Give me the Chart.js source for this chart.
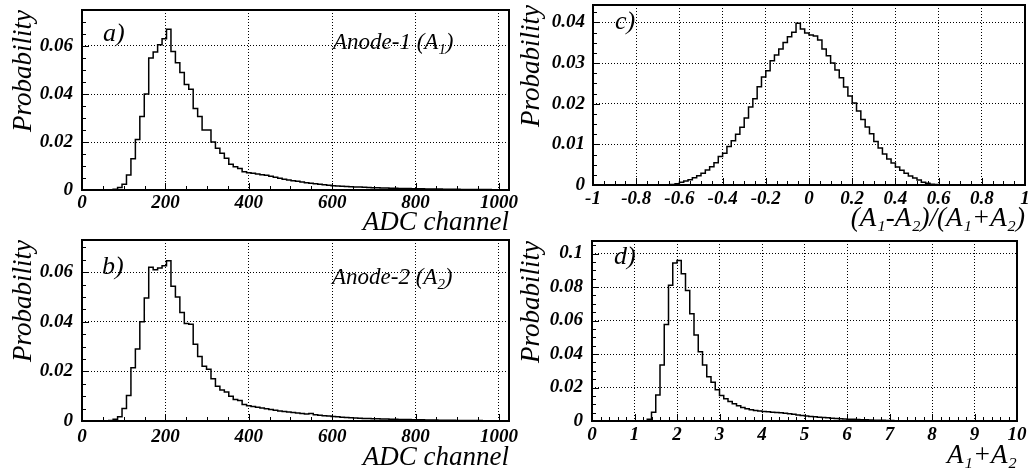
<!DOCTYPE html>
<html>
<head>
<meta charset="utf-8">
<script src="https://cdn.jsdelivr.net/npm/chart.js@4.4.1/dist/chart.umd.min.js"></script>
<style>
  html, body { margin: 0; padding: 0; background: #fff; overflow: hidden; }
  body { width: 1028px; height: 475px; position: relative; }
  canvas { position: absolute; }
  .lbl { position: absolute; font-family: 'Liberation Serif', serif; font-style: italic; line-height: 1; white-space: nowrap; color: #000; }
  .lbl span { font-size: 0.65em; position: relative; top: 0.35em; }
</style>
</head>
<body>
<canvas id="ga" width="520" height="237" style="left:0;top:0"></canvas>
<canvas id="gb" width="520" height="238" style="left:0;top:237px"></canvas>
<canvas id="gc" width="523" height="237" style="left:505px;top:0"></canvas>
<canvas id="gd" width="523" height="238" style="left:505px;top:237px"></canvas>

<div class="lbl" style="left:103px;top:20px;font-size:26px">a)</div>
<div class="lbl" style="left:333px;top:30px;font-size:23px">Anode-1 (A<span>1</span>)</div>
<div class="lbl" style="left:102px;top:253px;font-size:26px">b)</div>
<div class="lbl" style="left:332px;top:265px;font-size:23px">Anode-2 (A<span>2</span>)</div>
<div class="lbl" style="left:615px;top:8px;font-size:26px">c)</div>
<div class="lbl" style="left:614px;top:243px;font-size:26px">d)</div>

<script>
// ADC spectra: 96 bins over 0..1024
let adcRange = [0, 1024]
let adcTicks = [0, 200, 400, 600, 800, 1000]
let probTicksAB = [0, 0.02, 0.04, 0.06]
let anode1 = [
  0, 0, 0, 0, 0, 0, 0, 0.0001, 0.0003, 0.001,
  0.0024, 0.0063, 0.013, 0.021, 0.0306, 0.040, 0.055, 0.0575, 0.0605, 0.063,
  0.067, 0.0577, 0.053, 0.049, 0.044, 0.042, 0.034, 0.0306, 0.025, 0.025,
  0.020, 0.0174, 0.0153, 0.0132, 0.0107, 0.0097, 0.009, 0.0076, 0.0072, 0.0070,
  0.0067, 0.0064, 0.0061, 0.0057, 0.0053, 0.0049, 0.0045, 0.0042, 0.0039, 0.0036,
  0.0033, 0.0030, 0.0028, 0.0026, 0.0024, 0.0022, 0.0020, 0.0018, 0.0017, 0.0016,
  0.0015, 0.0014, 0.0013, 0.0012, 0.0011, 0.0010, 0.0009, 0.0009, 0.0008, 0.0008,
  0.0007, 0.0007, 0.0006, 0.0006, 0.0006, 0.0005, 0.0005, 0.0005, 0.0004, 0.0004,
  0.0004, 0.0004, 0.0003, 0.0003, 0.0003, 0.0003, 0.0002, 0.0002, 0.0002, 0.0002,
  0.0002, 0.0002, 0.0002, 0.0001, 0.0001, 0.0001
]
let anode2 = [
  0, 0, 0, 0, 0, 0, 0, 0.0002, 0.0007, 0.0017,
  0.005, 0.0103, 0.0215, 0.029, 0.040, 0.0496, 0.062, 0.061, 0.0617, 0.0626,
  0.0646, 0.0543, 0.050, 0.0438, 0.0393, 0.039, 0.031, 0.026, 0.0221, 0.0209,
  0.017, 0.014, 0.0125, 0.0117, 0.010, 0.0087, 0.0083, 0.0067, 0.0062, 0.0058,
  0.0055, 0.0052, 0.0049, 0.0046, 0.0043, 0.0040, 0.0038, 0.0036, 0.0034, 0.0032,
  0.0030, 0.0028, 0.0030, 0.0025, 0.0023, 0.0021, 0.0020, 0.0018, 0.0017, 0.0015,
  0.0014, 0.0013, 0.0012, 0.0011, 0.0010, 0.0010, 0.0009, 0.0009, 0.0008, 0.0008,
  0.0007, 0.0007, 0.0006, 0.0006, 0.0006, 0.0005, 0.0005, 0.0005, 0.0004, 0.0004,
  0.0004, 0.0003, 0.0003, 0.0003, 0.0003, 0.0002, 0.0002, 0.0002, 0.0002, 0.0002,
  0.0002, 0.0001, 0.0001, 0.0001, 0.0001, 0.0001
]

// (A1-A2)/(A1+A2): 100 bins over -1..1
let asymRange = [-1, 1]
let asymTicks = [-1, -0.8, -0.6, -0.4, -0.2, 0, 0.2, 0.4, 0.6, 0.8, 1]
let probTicksC = [0, 0.01, 0.02, 0.03, 0.04]
let asym = [
  0, 0, 0, 0, 0, 0, 0, 0, 0, 0,
  0, 0, 0, 0, 0, 0, 0, 0, 0, 0.0001,
  0.0003, 0.0007, 0.001, 0.0013, 0.0018, 0.0023, 0.0029, 0.0037, 0.0045, 0.0055,
  0.007, 0.0078, 0.0095, 0.0109, 0.0125, 0.0142, 0.0165, 0.0192, 0.0212, 0.0242,
  0.0266, 0.0281, 0.0306, 0.032, 0.0335, 0.0351, 0.0365, 0.0376, 0.0398, 0.0384,
  0.0374, 0.0369, 0.0367, 0.0357, 0.0335, 0.0318, 0.030, 0.0283, 0.0264, 0.0241,
  0.0219, 0.0202, 0.0182, 0.0161, 0.0143, 0.0126, 0.0107, 0.0091, 0.0076, 0.0064,
  0.0054, 0.0044, 0.0036, 0.0029, 0.0022, 0.0017, 0.0012, 0.0007, 0.0004, 0.0002,
  0.0001, 0, 0, 0, 0, 0, 0, 0, 0, 0,
  0, 0, 0, 0, 0, 0, 0, 0, 0, 0
]

// A1+A2: 100 bins over 0..10
let sumRange = [0, 10]
let sumTicks = [0, 1, 2, 3, 4, 5, 6, 7, 8, 9, 10]
let probTicksD = [0, 0.02, 0.04, 0.06, 0.08, 0.1]
let sumA = [
  0, 0, 0, 0, 0, 0, 0, 0, 0, 0,
  0, 0, 0, 0, 0.001, 0.0053, 0.0156, 0.0335, 0.0576, 0.081,
  0.0944, 0.0958, 0.088, 0.078, 0.064, 0.0513, 0.0414, 0.0335, 0.0265, 0.0232,
  0.0186, 0.0152, 0.0133, 0.0117, 0.0103, 0.0091, 0.0081, 0.0073, 0.0067, 0.0063,
  0.0059, 0.0057, 0.0055, 0.0053, 0.0051, 0.0049, 0.0046, 0.0043, 0.0040, 0.0036,
  0.0033, 0.0030, 0.0027, 0.0025, 0.0023, 0.0021, 0.0019, 0.0017, 0.0015, 0.0014,
  0.0012, 0.0011, 0.0010, 0.0009, 0.0008, 0.0007, 0.0006, 0.0005, 0.0004, 0.0004,
  0.0003, 0.0003, 0.0002, 0.0002, 0.0002, 0.0001, 0.0001, 0.0001, 0.0001, 0.0001,
  0, 0, 0, 0, 0, 0, 0, 0, 0, 0,
  0, 0, 0, 0, 0, 0, 0, 0, 0, 0
]

let serif = "'Liberation Serif', 'DejaVu Serif', serif"
let tickFont = { family: serif, style: 'italic', weight: 'bold', size: 19 }
let titleFont = { family: serif, style: 'italic', size: 27, lineHeight: 1 }

function histPoints(range, vals) {
  let w = (range[1] - range[0]) / vals.length
  let pts = vals.map((v, i) => ({ x: range[0] + i * w, y: v }))
  pts.push({ x: range[1], y: vals[vals.length - 1] })
  return pts
}

// frame + ROOT style inner ticks
const frame = {
  id: 'frame',
  afterDraw(chart, args, o) {
    let { ctx, chartArea: a } = chart
    let sx = chart.scales.x, sy = chart.scales.y
    ctx.save()
    ctx.strokeStyle = '#000'
    ctx.lineWidth = 1
    ctx.beginPath()
    for (let i = Math.ceil(sx.min / o.minorX - 1e-6); i <= Math.floor(sx.max / o.minorX + 1e-6); i++) {
      let px = Math.round(sx.getPixelForValue(i * o.minorX)) + 0.5
      let len = i % o.perX === 0 ? 7 : 4
      ctx.moveTo(px, a.bottom)
      ctx.lineTo(px, a.bottom - len)
    }
    for (let i = Math.ceil(sy.min / o.minorY - 1e-6); i <= Math.floor(sy.max / o.minorY + 1e-6); i++) {
      let py = Math.round(sy.getPixelForValue(i * o.minorY)) + 0.5
      let len = i % o.perY === 0 ? 7 : 4
      ctx.moveTo(a.left, py)
      ctx.lineTo(a.left + len, py)
    }
    ctx.stroke()
    ctx.lineWidth = 2
    ctx.strokeRect(a.left, a.top, a.right - a.left, a.bottom - a.top)
    ctx.restore()
  }
}

function histo(id, o) {
  return new Chart(document.getElementById(id), {
    type: 'line',
    data: {
      datasets: [{
        data: histPoints(o.range, o.values),
        stepped: 'after',
        borderColor: '#000',
        borderWidth: 1.5,
        pointRadius: 0,
        fill: false
      }]
    },
    options: {
      responsive: false,
      animation: false,
      devicePixelRatio: 1,
      layout: { padding: o.pad },
      plugins: {
        legend: { display: false },
        tooltip: { enabled: false },
        frame: { minorX: o.minorX, perX: o.perX, minorY: o.minorY, perY: o.perY }
      },
      scales: {
        x: {
          type: 'linear',
          min: o.range[0],
          max: o.range[1],
          grid: { color: '#000', lineWidth: 1, drawTicks: false },
          border: { display: false, dash: [1, 2] },
          ticks: {
            autoSkip: false, maxRotation: 0,
            padding: o.xTickPad, color: '#000', font: tickFont,
            callback: v => String(+v.toFixed(4))
          },
          afterBuildTicks: s => { s.ticks = o.xTicks.map(v => ({ value: v })) },
          title: {
            display: true, text: o.xTitle, align: 'end', color: '#000', font: titleFont,
            padding: { top: 0, bottom: o.xTitlePad }
          },
          afterFit: s => { s.height = o.xHeight; s.paddingLeft = 0; s.paddingRight = 0 }
        },
        y: {
          min: 0,
          max: o.yMax,
          grid: { color: '#000', lineWidth: 1, drawTicks: false },
          border: { display: false, dash: [1, 2] },
          ticks: {
            autoSkip: false,
            padding: o.yTickPad, color: '#000', font: tickFont,
            callback: v => String(+v.toFixed(4))
          },
          afterBuildTicks: s => { s.ticks = o.yTicks.map(v => ({ value: v })) },
          title: {
            display: true, text: 'Probability', align: 'end', color: '#000', font: titleFont,
            padding: { top: o.yTitlePad, bottom: 0 }
          },
          afterFit: s => { s.width = o.yWidth; s.paddingTop = 0; s.paddingBottom = 0 }
        }
      }
    },
    plugins: [frame]
  })
}

histo('ga', {
  range: adcRange, values: anode1, yMax: 0.075, xTicks: adcTicks, yTicks: probTicksAB,
  minorX: 50, perX: 4, minorY: 0.005, perY: 4,
  pad: { left: 0, top: 10, right: 11, bottom: 0 }, yWidth: 82, xHeight: 47,
  xTickPad: 2, yTickPad: 9, xTitle: 'ADC channel', xTitlePad: 1, yTitlePad: 10.5
})
histo('gb', {
  range: adcRange, values: anode2, yMax: 0.073, xTicks: adcTicks, yTicks: probTicksAB,
  minorX: 50, perX: 4, minorY: 0.005, perY: 4,
  pad: { left: 0, top: 3, right: 11, bottom: 0 }, yWidth: 82, xHeight: 54,
  xTickPad: 5, yTickPad: 9, xTitle: 'ADC channel', xTitlePad: 4, yTitlePad: 10.5
})
histo('gc', {
  range: asymRange, values: asym, yMax: 0.0443, xTicks: asymTicks, yTicks: probTicksC,
  minorX: 0.05, perX: 4, minorY: 0.0025, perY: 4,
  pad: { left: 0, top: 5, right: 3, bottom: 0 }, yWidth: 88, xHeight: 52,
  xTickPad: 3, yTickPad: 8, xTitle: '(A₁-A₂)/(A₁+A₂)', xTitlePad: 5, yTitlePad: 13.5
})
histo('gd', {
  range: sumRange, values: sumA, yMax: 0.1075, xTicks: sumTicks, yTicks: probTicksD,
  minorX: 0.2, perX: 5, minorY: 0.005, perY: 4,
  pad: { left: 0, top: 4, right: 11, bottom: 0 }, yWidth: 87, xHeight: 54,
  xTickPad: 3, yTickPad: 9, xTitle: 'A₁+A₂', xTitlePad: 6, yTitlePad: 13.5
})
</script>
</body>
</html>
